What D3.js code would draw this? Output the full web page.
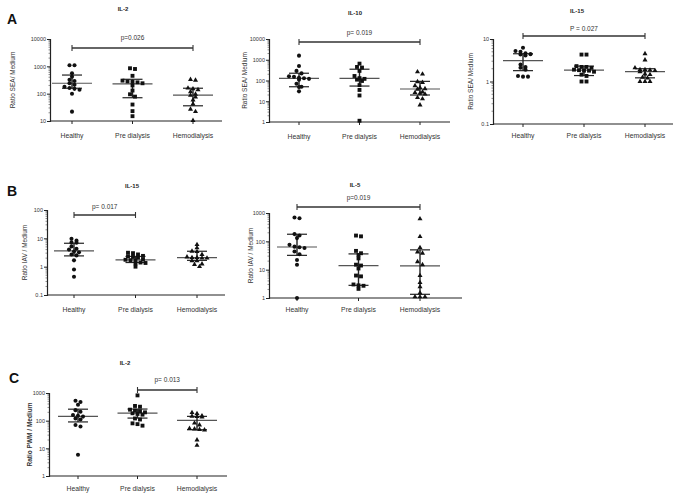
<!DOCTYPE html>
<html><head><meta charset="utf-8">
<script src="https://cdn.jsdelivr.net/npm/d3@7"></script>
<style>
body{margin:0;background:#fff;}
svg{display:block;font-family:"Liberation Sans",Arial,sans-serif;}
</style></head>
<body><svg id="c" width="683" height="496"></svg>
<script>
const categories = ["Healthy", "Pre dialysis", "Hemodialysis"];

// Panel A – IL-2 (SEA)
const aIl2Values = [
  [1100, 1100, 560, 420, 320, 290, 240, 210, 180, 160, 150, 140, 100, 22],
  [850, 800, 450, 300, 280, 270, 260, 240, 200, 130, 95, 78, 40, 23, 15],
  [330, 310, 160, 150, 140, 118, 95, 87, 75, 59, 42, 27, 22, 10.5]
];
const aIl2Median = [240, 230, 89];
const aIl2Q1 = [158, 71, 36];
const aIl2Q3 = [480, 336, 158];

// Panel A – IL-10 (SEA)
const aIl10Values = [
  [1580, 500, 290, 220, 160, 150, 135, 128, 120, 110, 70, 50, 48, 30],
  [650, 450, 420, 290, 165, 130, 120, 110, 95, 60, 35, 19, 1.15],
  [263, 204, 87, 80, 56, 45, 40, 38, 28, 26, 24, 22, 15, 13, 6.6]
];
const aIl10Median = [127, 127, 39];
const aIl10Q1 = [50, 54, 20];
const aIl10Q3 = [224, 350, 91];

// Panel A – IL-15 (SEA)
const aIl15Values = [
  [6.2, 5.2, 5.0, 4.6, 4.4, 4.3, 4.1, 2.5, 2.2, 2.1, 1.9, 1.35, 1.3, 1.3],
  [4.3, 4.3, 2.3, 2.2, 2.2, 2.1, 1.9, 1.85, 1.8, 1.8, 1.7, 1.45, 1.35, 1.0, 1.0],
  [4.5, 3.2, 2.1, 1.9, 1.9, 1.85, 1.8, 1.7, 1.5, 1.45, 1.25, 1.2, 1.0, 1.0, 1.0]
];
const aIl15Median = [3.1, 1.85, 1.7];
const aIl15Q1 = [1.8, 1.38, 1.22];
const aIl15Q3 = [4.5, 2.3, 2.0];

// Panel B – IL-15 (IAV)
const bIl15Values = [
  [9.7, 8.3, 7.2, 7.0, 5.2, 4.3, 4.0, 3.4, 3.2, 2.7, 2.5, 1.67, 0.79, 0.44],
  [3.1, 3.0, 2.7, 2.4, 2.3, 2.2, 2.1, 1.8, 1.75, 1.7, 1.6, 1.4, 1.35, 1.3, 1.0],
  [6.0, 4.6, 3.5, 3.4, 2.7, 2.2, 2.1, 2.1, 2.0, 2.0, 1.6, 1.6, 1.25, 1.2, 1.0]
];
const bIl15Median = [3.6, 1.75, 2.1];
const bIl15Q1 = [2.4, 1.4, 1.67];
const bIl15Q3 = [6.7, 2.3, 3.5];

// Panel B – IL-5 (IAV)
const bIl5Values = [
  [690, 650, 180, 160, 130, 75, 65, 62, 58, 44, 35, 22, 15, 1.0],
  [160, 150, 46, 38, 33, 25, 15, 14, 11, 6.2, 5.8, 3.0, 2.8, 2.7, 2.1],
  [620, 147, 60, 42, 38, 19, 15, 6.2, 3.5, 2.5, 1.5, 1.1, 1.1, 1.1]
];
const bIl5Median = [63, 14, 13.5];
const bIl5Q1 = [32, 2.8, 1.35];
const bIl5Q3 = [178, 36, 50];

// Panel C – IL-2 (PWM)
const cIl2Values = [
  [525, 470, 375, 240, 210, 160, 150, 140, 120, 110, 70, 62, 5.9],
  [820, 340, 320, 250, 230, 220, 200, 185, 175, 165, 120, 110, 80, 75, 66],
  [195, 180, 150, 145, 140, 135, 82, 70, 52, 50, 48, 46, 20, 12.8]
];
const cIl2Median = [143, 187, 103];
const cIl2Q1 = [90, 124, 47];
const cIl2Q3 = [260, 263, 143];

const panelTitles = ["IL-2", "IL-10", "IL-15", "IL-15", "IL-5", "IL-2"];
const yLabels = ["Ratio SEA/ Medium", "Ratio SEA/ Medium", "Ratio SEA/ Medium",
                 "Ratio IAV / Medium", "Ratio IAV / Medium", "Ratio PWM / Medium"];
const pLabels = ["p=0.026", "p= 0.019", "P = 0.027", "p= 0.017", "p=0.019", "p= 0.013"];
const sigPairs = [[0, 2], [0, 2], [0, 2], [0, 1], [0, 2], [1, 2]];
const yDomains = [[10, 10000], [1, 10000], [0.1, 10], [0.1, 100], [1, 1000], [1, 1000]];

// layout (positions only)
const layouts = [
  {x0: 50, x1: 222, c0: 72, c1: 193, yT: 39, yB: 121, title: [123, 11], yl: 13, xl: 135, sig: 48, pY: 40},
  {x0: 269, x1: 450, c0: 299, c1: 420, yT: 39, yB: 122, title: [355, 15], yl: 245, xl: 136, sig: 42, pY: 35},
  {x0: 493, x1: 673, c0: 523, c1: 645, yT: 39, yB: 124, title: [577, 13], yl: 471, xl: 135, sig: 36, pY: 31},
  {x0: 47, x1: 225, c0: 74, c1: 197, yT: 210, yB: 295, title: [132, 188], yl: 25, xl: 309, sig: 215, pY: 209},
  {x0: 269, x1: 462, c0: 297, c1: 420, yT: 213, yB: 298, title: [355, 187], yl: 251, xl: 309, sig: 207, pY: 200},
  {x0: 49, x1: 227, c0: 78, c1: 197, yT: 393, yB: 476, title: [125, 365], yl: 30, xl: 488, sig: 390, pY: 382}
];

const panels = [
  [aIl2Values, aIl2Median, aIl2Q1, aIl2Q3],
  [aIl10Values, aIl10Median, aIl10Q1, aIl10Q3],
  [aIl15Values, aIl15Median, aIl15Q1, aIl15Q3],
  [bIl15Values, bIl15Median, bIl15Q1, bIl15Q3],
  [bIl5Values, bIl5Median, bIl5Q1, bIl5Q3],
  [cIl2Values, cIl2Median, cIl2Q1, cIl2Q3]
];

const svg = d3.select("#c");
const textCol = "#333";

// Panel letters
[["A", 7, 24], ["B", 7, 196], ["C", 9, 383]].forEach(([t, x, y]) => {
  svg.append("text").attr("x", x).attr("y", y).attr("font-size", 14)
    .attr("font-weight", "bold").attr("fill", "#111").text(t);
});

const symbols = [d3.symbolCircle, d3.symbolSquare, d3.symbolTriangle];
const symSizes = [13, 15, 11];

panels.forEach((p, i) => {
  const [vals, med, q1, q3] = p;
  const L = layouts[i];
  const g = svg.append("g");
  const y = d3.scaleLog().domain(yDomains[i]).range([L.yB, L.yT]);
  const x = d3.scalePoint().domain(categories).range([L.c0, L.c1]);

  // y axis
  const decades = [];
  for (let v = yDomains[i][0]; v <= yDomains[i][1] * 1.0001; v *= 10) decades.push(+v.toPrecision(3));
  const minors = [];
  decades.slice(0, -1).forEach(d => { for (let k = 2; k <= 9; k++) minors.push(d * k); });
  const yAxis = g.append("g").attr("transform", `translate(${L.x0},0)`)
    .call(d3.axisLeft(y).tickValues(decades).tickFormat(d => String(d)).tickSize(3).tickPadding(1));
  yAxis.select(".domain").attr("stroke", "#222").attr("stroke-width", 1.2);
  yAxis.selectAll(".tick line").attr("stroke", "#222");
  yAxis.selectAll(".tick text").attr("font-size", 5.5).attr("fill", textCol).attr("font-family", "Liberation Sans, Arial, sans-serif");
  g.append("g").selectAll("line").data(minors).join("line")
    .attr("x1", L.x0 - 1.5).attr("x2", L.x0).attr("y1", d => y(d)).attr("y2", d => y(d))
    .attr("stroke", "#444").attr("stroke-width", 0.6);

  // x axis
  g.append("line").attr("x1", L.x0).attr("x2", L.x1).attr("y1", L.yB).attr("y2", L.yB)
    .attr("stroke", "#222").attr("stroke-width", 1.2);
  g.append("g").selectAll("line").data(categories).join("line")
    .attr("x1", d => x(d)).attr("x2", d => x(d)).attr("y1", L.yB).attr("y2", L.yB + 3)
    .attr("stroke", "#222");
  g.append("g").selectAll("text").data(categories).join("text")
    .attr("x", d => x(d)).attr("y", L.xl + 3).attr("text-anchor", "middle")
    .attr("font-size", 6.8).attr("fill", textCol).text(d => d);

  // y label
  g.append("text").attr("transform", `translate(${L.yl},${(L.yT + L.yB) / 2}) rotate(-90)`)
    .attr("text-anchor", "middle").attr("dy", "0.35em").attr("font-size", 6.5)
    .attr("font-weight", i === 5 ? "bold" : "normal").attr("fill", textCol).text(yLabels[i]);

  // title
  g.append("text").attr("x", L.title[0]).attr("y", L.title[1]).attr("text-anchor", "middle")
    .attr("font-size", 6).attr("font-weight", "bold").attr("fill", "#222").text(panelTitles[i]);

  // significance bar
  const [sa, sb] = sigPairs[i];
  const xa = x(categories[sa]), xb = x(categories[sb]);
  g.append("line").attr("x1", xa).attr("x2", xb).attr("y1", L.sig).attr("y2", L.sig)
    .attr("stroke", "#333").attr("stroke-width", 1.3);
  [xa, xb].forEach(xx => g.append("line").attr("x1", xx).attr("x2", xx)
    .attr("y1", L.sig - 3).attr("y2", L.sig + 3).attr("stroke", "#333").attr("stroke-width", 1.1));
  g.append("text").attr("x", (xa + xb) / 2).attr("y", L.pY).attr("text-anchor", "middle")
    .attr("font-size", 6.5).attr("fill", textCol).text(pLabels[i]);

  // points with simple deterministic column scatter
  categories.forEach((cat, ci) => {
    const cx = x(cat);
    const sorted = vals[ci].slice().sort((a, b) => b - a);
    const rows = [];
    sorted.forEach(v => {
      const py = y(v);
      const last = rows[rows.length - 1];
      if (last && Math.abs(last.y0 - py) < 3.2) last.items.push({v, py});
      else rows.push({y0: py, items: [{v, py}]});
    });
    const pts = [];
    rows.forEach(r => {
      const n = r.items.length;
      r.items.forEach((it, k) => pts.push({v: it.v, px: cx + (k - (n - 1) / 2) * 5, py: it.py}));
    });

    // median line and IQR
    g.append("line").attr("x1", cx - 20).attr("x2", cx + 20).attr("y1", y(med[ci])).attr("y2", y(med[ci]))
      .attr("stroke", "#555").attr("stroke-width", 1.2);
    g.append("line").attr("x1", cx).attr("x2", cx).attr("y1", y(q1[ci])).attr("y2", y(q3[ci]))
      .attr("stroke", "#222").attr("stroke-width", 1.4);
    [q1[ci], q3[ci]].forEach(q => g.append("line").attr("x1", cx - 10).attr("x2", cx + 10)
      .attr("y1", y(q)).attr("y2", y(q)).attr("stroke", "#222").attr("stroke-width", 1.2));

    g.append("g").selectAll("path").data(pts).join("path")
      .attr("transform", d => `translate(${d.px},${d.py})`)
      .attr("d", d3.symbol().type(symbols[ci]).size(symSizes[ci]))
      .attr("fill", "#111");
  });
});
</script>
</body></html>
